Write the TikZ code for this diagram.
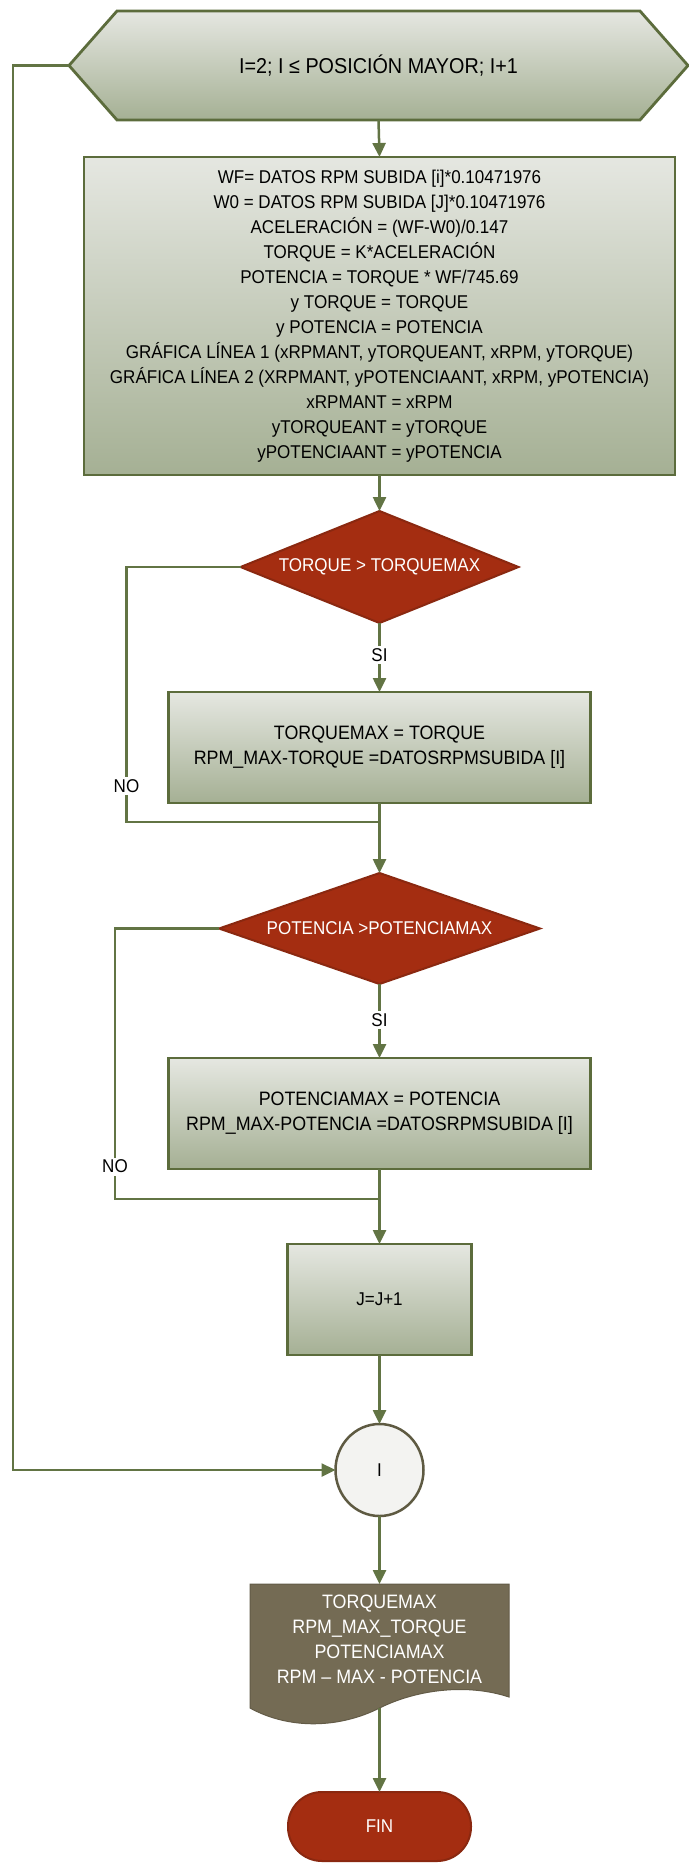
\documentclass[tikz,border=0pt]{standalone}
\usepackage{fontspec}
\setmainfont{Liberation Sans}[FakeStretch=0.92]
\usetikzlibrary{arrows.meta,shapes.geometric,calc}
\pgfdeclarelayer{bg}
\pgfsetlayers{bg,main}

\definecolor{lineol}{RGB}{98,116,68}
\definecolor{edgeol}{RGB}{92,108,60}
\definecolor{boxtop}{RGB}{229,231,225}
\definecolor{boxbot}{RGB}{165,176,148}
\definecolor{decred}{RGB}{164,45,17}
\definecolor{decedge}{RGB}{138,40,16}
\definecolor{circfill}{RGB}{243,243,241}
\definecolor{circedge}{RGB}{94,90,66}
\definecolor{docfill}{RGB}{116,107,84}

\tikzset{
  txt/.style={font=\fontsize{18.5}{25}\selectfont},
  procbox/.style={txt, draw=edgeol, line width=2.8pt, top color=boxtop,
    bottom color=boxbot, align=center, inner sep=0pt, outer sep=0pt},
  hexfill/.style={draw=edgeol, line width=2.8pt, top color=boxtop, bottom color=boxbot},
  decision/.style={txt, shape=diamond, draw=decedge, line width=2pt, fill=decred,
    text=white, inner sep=0pt, outer sep=0pt, aspect=3},
  conn/.style={draw=lineol, line width=2.5pt},
  arr/.style={conn, -{Triangle[width=13pt,length=14pt]}},
  lbl/.style={txt, fill=white, inner sep=2.5pt},
}

\begin{document}
\begin{tikzpicture}[x=1pt,y=-1pt]
\useasboundingbox (0,0) rectangle (688,1863);

% loop header (hexagon drawn on the background layer)
\node[txt, font=\fontsize{21.5}{25}\selectfont, minimum width=619pt,
  minimum height=109pt, inner sep=0pt, outer sep=0pt]
  (hex) at (378.5,65.5) {I=2; I ≤ POSICIÓN MAYOR; I+1};

% main computation block
\node[procbox, minimum width=591pt, minimum height=318pt] (big) at (379.5,316)
  {WF= DATOS RPM SUBIDA [i]*0.10471976\\
   W0 = DATOS RPM SUBIDA [J]*0.10471976\\
   ACELERACIÓN = (WF-W0)/0.147\\
   TORQUE = K*ACELERACIÓN\\
   POTENCIA = TORQUE * WF/745.69\\
   y TORQUE = TORQUE\\
   y POTENCIA = POTENCIA\\
   GRÁFICA LÍNEA 1 (xRPMANT, yTORQUEANT, xRPM, yTORQUE)\\
   GRÁFICA LÍNEA 2 (XRPMANT, yPOTENCIAANT, xRPM, yPOTENCIA)\\
   xRPMANT = xRPM\\
   yTORQUEANT = yTORQUE\\
   yPOTENCIAANT = yPOTENCIA};

% torque check
\node[decision, minimum width=278pt, minimum height=112pt] (d1) at (379.5,567)
  {TORQUE > TORQUEMAX};
\node[procbox, font=\fontsize{19.4}{25}\selectfont, minimum width=422pt,
  minimum height=111pt] (b2) at (379.5,747.5)
  {TORQUEMAX = TORQUE\\ RPM\_MAX-TORQUE =DATOSRPMSUBIDA [I]};
\coordinate (j1) at (379.5,822);

% power check
\node[decision, minimum width=321pt, minimum height=111pt] (d2) at (379.5,928.5)
  {POTENCIA >POTENCIAMAX};
\node[procbox, font=\fontsize{19.4}{25}\selectfont, minimum width=422pt,
  minimum height=111pt] (b3) at (379.5,1113.5)
  {POTENCIAMAX = POTENCIA\\ RPM\_MAX-POTENCIA =DATOSRPMSUBIDA [I]};
\coordinate (j2) at (379.5,1199);

% counter update
\node[procbox, minimum width=184pt, minimum height=111pt] (b4) at (379.5,1299.5) {J=J+1};

% connector circle
\node[txt, shape=ellipse, draw=circedge, line width=2.5pt, fill=circfill,
  minimum width=88pt, minimum height=92pt, inner sep=0pt, outer sep=0pt]
  (circ) at (379.5,1470) {I};

% output document (shape drawn on the background layer)
\node[txt, font=\fontsize{19.4}{25}\selectfont, text=white, align=center,
  minimum width=259pt, minimum height=111pt, inner sep=0pt, outer sep=0pt]
  (doc) at (379.5,1639.5)
  {TORQUEMAX\\ RPM\_MAX\_TORQUE\\ POTENCIAMAX\\ RPM – MAX - POTENCIA};
\coordinate (docb) at ($(doc.south)+(0,13)$);

% terminator
\node[txt, draw=decedge, line width=2pt, fill=decred, text=white,
  rounded corners=34pt, minimum width=183pt, minimum height=69pt,
  inner sep=0pt, outer sep=0pt] (fin) at (379.5,1826.5) {FIN};

\begin{pgfonlayer}{bg}
  \fill[white] (0,0) rectangle (688,1863);
  \path[hexfill] (hex.west) -- ($(hex.north west)+(48,0)$)
    -- ($(hex.north east)+(-48,0)$) -- (hex.east)
    -- ($(hex.south east)+(-48,0)$) -- ($(hex.south west)+(48,0)$) -- cycle;
  \path[fill=docfill, draw=docfill!85!black, line width=1pt]
    (doc.north west) -- (doc.north east) -- ($(doc.south east)+(0,2)$)
    .. controls ($(doc.south east)+(-39,-11)$) and ($(doc.south)+(40.5,-7)$) .. (docb)
    .. controls ($(doc.south)+(-39.5,33)$) and ($(doc.south west)+(40,35)$)
    .. ($(doc.south west)+(0,13)$) -- cycle;
\end{pgfonlayer}

% connectors
\draw[arr] (hex.south) -- (big.north);
\draw[arr] (big.south) -- (d1.north);
\draw[arr] (d1.south) -- (b2.north) node[lbl, pos=0.46] {SI};
\draw[conn] (d1.west) -- ++(-114,0) |- (j1) node[lbl, pos=0.43] {NO};
\draw[arr] (b2.south) -- (d2.north);
\draw[arr] (d2.south) -- (b3.north) node[lbl, pos=0.49] {SI};
\draw[conn] (d2.west) -- ++(-104,0) |- (j2) node[lbl, pos=0.44] {NO};
\draw[arr] (b3.south) -- (b4.north);
\draw[arr] (b4.south) -- (circ.north);
\draw[arr] (hex.west) -- ++(-56,0) |- (circ.west);
\draw[arr] (circ.south) -- (doc.north);
\draw[arr] (docb) -- (fin.north);
\end{tikzpicture}
\end{document}
